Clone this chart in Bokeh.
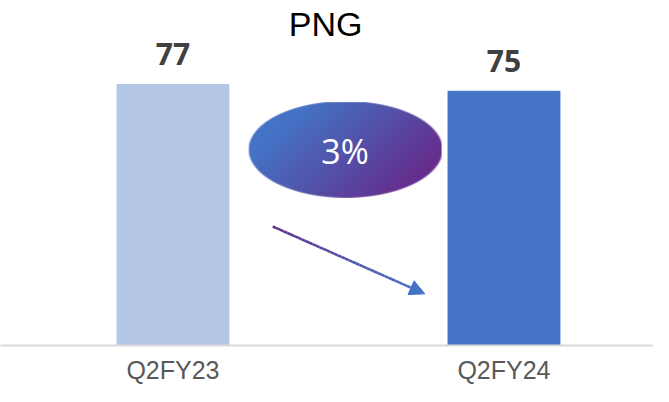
import numpy as np
from bokeh.plotting import figure
from bokeh.models import Range1d, FixedTicker, Arrow, NormalHead, ColumnDataSource
from bokeh.core.properties import value
from bokeh.embed import file_html
from bokeh.resources import INLINE

# ---- data ----
title_text = "PNG"
categories = ["Q2FY23", "Q2FY24"]
values = [77, 75]
bar_colors = ["#B4C7E7", "#4472C4"]
change_label = "3%"

xs = list(range(len(categories)))

# layout constants (pixels)
B = 345.0                 # expected frame bottom
S = (B - 84.0) / 77.0     # px per unit

def yd(py):
    return (B - py) / S

p = figure(width=653, height=386, output_backend="svg", toolbar_location=None,
           x_range=Range1d(-0.5211, 1.4517), y_range=Range1d(0, B / S),
           min_border_left=0, min_border_right=0, min_border_top=0,
           tools="")
p.outline_line_color = None
p.grid.visible = False
p.yaxis.visible = False
p.background_fill_color = "white"
p.border_fill_color = "white"

# bars
src = ColumnDataSource(dict(x=xs, top=values, color=bar_colors,
                            label=[str(v) for v in values],
                            ly=[v + 9.0 for v in values]))
p.vbar(x="x", top="top", width=0.338, bottom=0, color="color", source=src)

# value labels
p.text(x="x", y="ly", text="label", source=src, text_align="center",
       text_baseline="middle", text_font=value("Open Sans"),
       text_font_style="bold", text_font_size="30px", text_color="#404040")

# title
p.text(x=[0.461], y=[yd(23)], text=[title_text], text_align="center",
       text_baseline="middle", text_font=value("Liberation Sans"),
       text_font_size="34px", text_color="#000000")

# gradient ellipse
W, H = 193, 96
cx, cy, dw, dh = 0.52, yd(149.5), 0.583, 95.6 / S
img = np.zeros((H, W), dtype=np.uint32)
view = img.view(dtype=np.uint8).reshape((H, W, 4))
px = np.arange(W) + 0.5
py = np.arange(H) + 0.5
PX, PY = np.meshgrid(px, py)          # PY: row from bottom
top_y = H - PY                         # distance from top
u = (PX - W / 2) / (W / 2)
v = (top_y - H / 2) / (H / 2)
r = np.sqrt(u ** 2 + v ** 2)
edge = np.clip((1 - r) * (min(W, H) / 2) + 0.5, 0, 1)
t = np.clip((PX + top_y) / (W + H), 0, 1)
t = np.clip((t - 0.22) / 0.63, 0, 1)
c0 = np.array([68, 114, 196])
c1 = np.array([102, 45, 140])
for k in range(3):
    view[:, :, k] = (c0[k] + (c1[k] - c0[k]) * t).astype(np.uint8)
view[:, :, 3] = (edge * 255).astype(np.uint8)
p.image_rgba(image=[img], x=cx - dw / 2, y=cy - dh / 2, dw=dw, dh=dh)

p.text(x=[cx], y=[yd(150)], text=[change_label], text_align="center",
       text_baseline="middle", text_font=value("Open Sans"),
       text_font_size="34px", text_color="white")

# gradient arrow
x0, y0, x1, y1 = 0.3015, yd(226), 0.7607, yd(293.3)
n = 40
a0 = np.array([95, 46, 142])
a1 = np.array([68, 114, 196])
fr = np.linspace(0, 1, n + 1)
seg_cols = []
for i in range(n):
    f = (fr[i] + fr[i + 1]) / 2
    c = (a0 + (a1 - a0) * f).astype(int)
    seg_cols.append("#%02x%02x%02x" % tuple(c))
p.segment(x0=list(x0 + (x1 - x0) * fr[:-1] * 0.95), y0=list(y0 + (y1 - y0) * fr[:-1] * 0.95),
          x1=list(x0 + (x1 - x0) * fr[1:] * 0.95), y1=list(y0 + (y1 - y0) * fr[1:] * 0.95),
          line_color=seg_cols, line_width=2.5)
p.add_layout(Arrow(end=NormalHead(size=15, fill_color="#4472C4", line_color="#4472C4"),
                   x_start=x0, y_start=y0, x_end=x1, y_end=y1, line_alpha=0))

# x axis
p.xaxis.ticker = FixedTicker(ticks=xs)
p.xaxis.major_label_overrides = {i: c for i, c in zip(xs, categories)}
p.xaxis.major_tick_line_color = None
p.xaxis.minor_tick_line_color = None
p.xaxis.major_tick_out = 0
p.xaxis.major_tick_in = 0
p.xaxis.axis_line_color = "#D9D9D9"
p.xaxis.axis_line_width = 2
p.xaxis.major_label_standoff = 10
p.xaxis.major_label_text_font = "Liberation Sans"
p.xaxis.major_label_text_font_size = "25px"
p.xaxis.major_label_text_color = "#595959"

open("out.html", "w").write(file_html(p, INLINE))
